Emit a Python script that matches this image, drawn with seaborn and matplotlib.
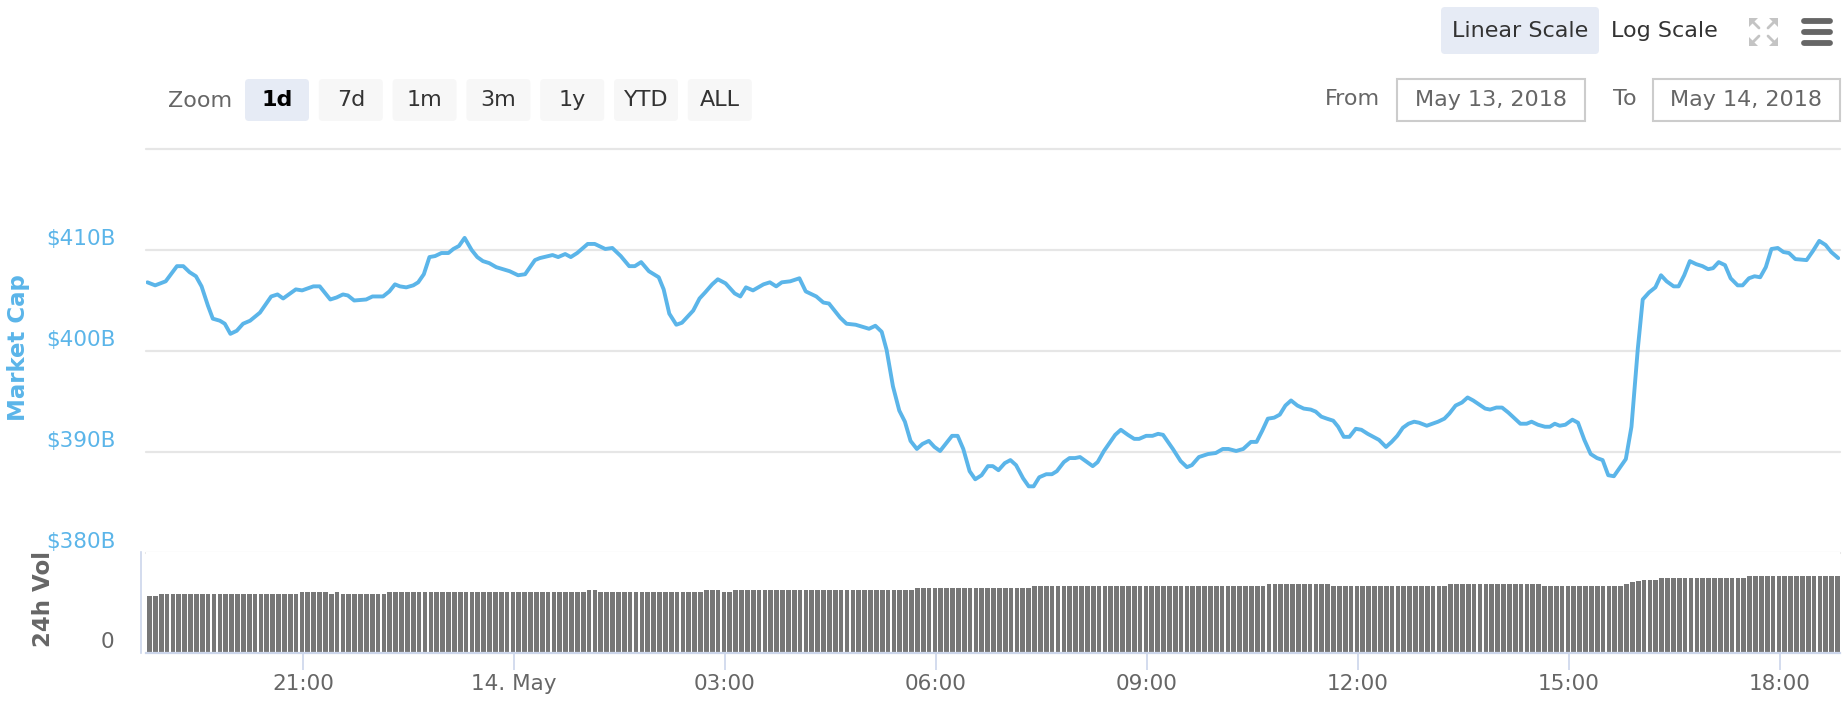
import numpy as np
import matplotlib
matplotlib.use("Agg")
import matplotlib.pyplot as plt
import matplotlib.transforms as mtrans
from matplotlib.patches import FancyBboxPatch, Rectangle, Polygon
import seaborn as sns

# market cap line: hours since 13 May 00:00, value in $B
HOURS = [18.79, 18.90, 19.05, 19.21, 19.30, 19.39, 19.48, 19.56, 19.65, 19.72,
         19.82, 19.89, 19.97, 20.06, 20.15, 20.25, 20.39, 20.55, 20.64, 20.72,
         20.82, 20.90, 20.99, 21.15, 21.24, 21.39, 21.48, 21.57, 21.64, 21.73,
         21.90, 21.99, 22.14, 22.23, 22.31, 22.38, 22.47, 22.57, 22.64, 22.72,
         22.80, 22.88, 22.97, 23.07, 23.14, 23.22, 23.30, 23.40, 23.48, 23.56,
         23.65, 23.75, 23.94, 24.06, 24.16, 24.30, 24.37, 24.55, 24.63, 24.73,
         24.81, 24.90, 25.05, 25.15, 25.30, 25.40, 25.52, 25.64, 25.72, 25.81,
         25.92, 26.06, 26.13, 26.21, 26.31, 26.39, 26.55, 26.64, 26.72, 26.82,
         26.90, 27.01, 27.14, 27.22, 27.30, 27.40, 27.55, 27.64, 27.73, 27.81,
         27.93, 28.06, 28.15, 28.30, 28.40, 28.48, 28.64, 28.73, 28.86, 29.05,
         29.14, 29.23, 29.30, 29.39, 29.48, 29.56, 29.64, 29.73, 29.81, 29.90,
         29.98, 30.06, 30.14, 30.23, 30.31, 30.39, 30.48, 30.56, 30.65, 30.74,
         30.81, 30.89, 30.98, 31.06, 31.14, 31.24, 31.32, 31.39, 31.47, 31.57,
         31.65, 31.72, 31.82, 31.90, 31.98, 32.05, 32.23, 32.30, 32.39, 32.55,
         32.63, 32.73, 32.82, 32.89, 32.99, 33.08, 33.16, 33.23, 33.37, 33.48,
         33.57, 33.64, 33.74, 33.87, 33.98, 34.08, 34.16, 34.27, 34.37, 34.48,
         34.56, 34.64, 34.72, 34.81, 34.89, 34.97, 35.05, 35.14, 35.23, 35.33,
         35.40, 35.48, 35.56, 35.65, 35.72, 35.80, 35.88, 35.97, 36.05, 36.14,
         36.30, 36.40, 36.48, 36.56, 36.64, 36.72, 36.80, 36.87, 36.98, 37.06,
         37.14, 37.23, 37.30, 37.39, 37.48, 37.56, 37.64, 37.81, 37.88, 37.97,
         38.05, 38.14, 38.31, 38.40, 38.47, 38.56, 38.66, 38.73, 38.80, 38.87,
         38.95, 39.05, 39.13, 39.22, 39.31, 39.40, 39.48, 39.56, 39.64, 39.73,
         39.81, 39.89, 39.98, 40.05, 40.14, 40.23, 40.31, 40.39, 40.49, 40.56,
         40.64, 40.72, 40.81, 40.90, 40.98, 41.05, 41.13, 41.22, 41.30, 41.40,
         41.47, 41.56, 41.64, 41.72, 41.80, 41.88, 41.97, 42.05, 42.13, 42.22,
         42.38, 42.47, 42.56, 42.65, 42.73, 42.83]
MCAP = [406.8, 406.5, 406.9, 408.4, 408.4, 407.8, 407.4, 406.4, 404.5, 403.2,
        403.0, 402.7, 401.7, 402.0, 402.7, 403.0, 403.8, 405.4, 405.6, 405.2,
        405.7, 406.1, 406.0, 406.4, 406.4, 405.1, 405.3, 405.6, 405.5, 405.0,
        405.1, 405.4, 405.4, 405.9, 406.6, 406.4, 406.3, 406.5, 406.8, 407.6,
        409.3, 409.4, 409.7, 409.7, 410.1, 410.4, 411.2, 410.0, 409.3, 408.9,
        408.7, 408.3, 407.9, 407.5, 407.6, 409.0, 409.2, 409.5, 409.3, 409.6,
        409.3, 409.7, 410.6, 410.6, 410.1, 410.2, 409.4, 408.4, 408.4, 408.8,
        407.9, 407.3, 406.1, 403.7, 402.6, 402.8, 404.0, 405.2, 405.8, 406.6,
        407.1, 406.7, 405.7, 405.4, 406.3, 406.0, 406.6, 406.8, 406.4, 406.8,
        406.9, 407.2, 405.9, 405.4, 404.8, 404.7, 403.3, 402.7, 402.6, 402.2,
        402.5, 401.9, 400.1, 396.5, 394.1, 393.0, 391.1, 390.3, 390.8, 391.1,
        390.5, 390.1, 390.8, 391.6, 391.6, 390.3, 388.1, 387.3, 387.7, 388.6,
        388.6, 388.2, 388.9, 389.2, 388.7, 387.4, 386.6, 386.6, 387.5, 387.8,
        387.8, 388.1, 389.0, 389.4, 389.4, 389.5, 388.6, 389.0, 390.1, 391.7,
        392.2, 391.7, 391.3, 391.3, 391.6, 391.6, 391.8, 391.7, 390.3, 389.1,
        388.5, 388.7, 389.5, 389.8, 389.9, 390.3, 390.3, 390.1, 390.3, 391.0,
        391.0, 392.1, 393.3, 393.4, 393.7, 394.6, 395.1, 394.6, 394.3, 394.2,
        394.0, 393.5, 393.3, 393.1, 392.5, 391.5, 391.5, 392.3, 392.2, 391.8,
        391.2, 390.5, 391.0, 391.6, 392.4, 392.8, 393.0, 392.9, 392.6, 392.8,
        393.0, 393.3, 393.8, 394.6, 394.9, 395.4, 395.1, 394.3, 394.2, 394.4,
        394.4, 393.9, 392.8, 392.8, 393.0, 392.7, 392.5, 392.5, 392.8, 392.6,
        392.7, 393.2, 392.9, 391.2, 389.8, 389.4, 389.2, 387.7, 387.6, 388.5,
        389.3, 392.5, 400.2, 405.1, 405.8, 406.3, 407.5, 406.9, 406.4, 406.4,
        407.5, 408.9, 408.6, 408.4, 408.1, 408.2, 408.8, 408.5, 407.2, 406.5,
        406.5, 407.2, 407.4, 407.3, 408.3, 410.1, 410.2, 409.8, 409.7, 409.1,
        409.0, 409.9, 410.9, 410.5, 409.8, 409.2]

# 24h volume bars (5 minute steps), as runs of equal height: level in $B, bar count
VOL_START = 18.82
VOL_STEP_MIN = 5
VOL_LEVELS = [16.8, 17.4, 18.0, 17.4, 18.0, 17.4, 18.0, 18.6, 18.0, 18.6, 18.0, 18.6,
              19.2, 19.8, 20.4, 19.8, 20.4, 19.8, 20.4, 21.0, 21.4, 21.6, 22.2, 22.8]
VOL_COUNTS = [2, 24, 5, 1, 1, 8, 34, 2, 18, 3, 2, 31,
              20, 40, 11, 20, 16, 14, 1, 1, 1, 3, 15, 16]

XTICK_HOURS = [21, 24, 27, 30, 33, 36, 39, 42]
XTICK_LABELS = ['21:00', '14. May', '03:00', '06:00', '09:00', '12:00', '15:00', '18:00']
YTICKS = [380, 390, 400, 410, 420]
YTICK_LABELS = ['$380B', '$390B', '$400B', '$410B', '']
ZOOM_BUTTONS = ['1d', '7d', '1m', '3m', '1y', 'YTD', 'ALL']
DATE_FROM = 'May 13, 2018'
DATE_TO = 'May 14, 2018'

BLUE = '#5bb5e9'
GRID = '#e6e6e6'
AXIS = '#ccd6eb'
TXT = '#666666'
W, H = 1848, 712
XMIN, XMAX = 18.77, 42.855

sns.set_theme(style="white")
plt.rcParams['font.family'] = ['DejaVu Sans']

vol = np.repeat(VOL_LEVELS, VOL_COUNTS)
vol_hours = VOL_START + np.arange(len(vol)) * VOL_STEP_MIN / 60

fig = plt.figure(figsize=(W / 100, H / 100), dpi=100)
fig.patch.set_facecolor('white')
ax = fig.add_axes([146 / W, 1 - 553 / H, 1694 / W, 404 / H])
axv = fig.add_axes([146 / W, 1 - 653 / H, 1694 / W, 101 / H])
lift = mtrans.ScaledTranslation(0, 0.13, fig.dpi_scale_trans)

# price pane
for v in YTICKS:
    ax.axhline(v, color=GRID, lw=1.6, clip_on=False, zorder=0)
sns.lineplot(x=HOURS, y=MCAP, ax=ax, color=BLUE, lw=2.8,
             estimator=None, sort=False, zorder=3)
ax.set_xlim(XMIN, XMAX)
ax.set_ylim(380, 420)
ax.set_yticks(YTICKS)
ax.set_yticklabels(YTICK_LABELS)
ax.set_xticks([])
ax.set(xlabel='', ylabel='')
ax.grid(False)
ax.tick_params(axis='y', length=0, pad=22, labelcolor=BLUE, labelsize=15.5)
for s in ax.spines.values():
    s.set_visible(False)
for lab in ax.get_yticklabels():
    lab.set_transform(lab.get_transform() + lift)

# volume pane
sns.barplot(x=vol_hours, y=vol, ax=axv, native_scale=True, color='#777777',
            saturation=1, width=0.8, errorbar=None, linewidth=0)
axv.set_xlim(XMIN, XMAX)
axv.set_ylim(0, 30)
axv.set_yticks([0])
axv.set_yticklabels(['0'])
axv.set_xticks(XTICK_HOURS)
axv.set_xticklabels(XTICK_LABELS)
axv.set(xlabel='', ylabel='')
axv.grid(False)
axv.tick_params(axis='y', length=0, pad=19, labelcolor=TXT, labelsize=15.5)
axv.tick_params(axis='x', bottom=True, direction='out', length=12, width=1.2,
                color=AXIS, labelcolor=TXT, labelsize=15.5, pad=3)
for side in ['top', 'right']:
    axv.spines[side].set_visible(False)
axv.spines['bottom'].set_color(AXIS)
axv.spines['bottom'].set_linewidth(1.6)
axv.spines['left'].set_color(AXIS)
axv.spines['left'].set_linewidth(1.2)
axv.spines['left'].set_position(('outward', 3.6))
for lab in axv.get_yticklabels():
    lab.set_transform(lab.get_transform() + lift)

fig.text(19 / W, 1 - 348 / H, 'Market Cap', rotation=90, color=BLUE, fontsize=16.5,
         fontweight='bold', ha='center', va='center')
fig.text(43 / W, 1 - 599 / H, '24h Vol', rotation=90, color=TXT, fontsize=16.5,
         fontweight='bold', ha='center', va='center')

# toolbar chrome, drawn in pixel units
ui = fig.add_axes([0, 0, 1, 1], zorder=5)
ui.set_xlim(0, W)
ui.set_ylim(H, 0)
ui.axis('off')
ui.patch.set_alpha(0)

ui.text(200, 101, 'Zoom', ha='center', va='center', fontsize=16, color=TXT)
for i, lab in enumerate(ZOOM_BUTTONS):
    x0 = 245 + i * 73.8
    sel = i == 0
    ui.add_patch(FancyBboxPatch((x0, 79), 64, 42, boxstyle='round,pad=0,rounding_size=4',
                                fc='#e6ebf5' if sel else '#f7f7f7', ec='none'))
    ui.text(x0 + 32, 100, lab, ha='center', va='center', fontsize=16,
            color='black' if sel else '#333333', fontweight='bold' if sel else 'normal')

ui.add_patch(FancyBboxPatch((1441, 7), 158, 47, boxstyle='round,pad=0,rounding_size=4',
                            fc='#e6ebf5', ec='none'))
ui.text(1520, 31, 'Linear Scale', ha='center', va='center', fontsize=16, color='#333333')
ui.text(1664, 31, 'Log Scale', ha='center', va='center', fontsize=16, color='#333333')

# fullscreen icon
ic = '#c4c4c4'
for cx, cy, dx, dy in [(1749, 18, 1, 1), (1778, 18, -1, 1), (1749, 46, 1, -1), (1778, 46, -1, -1)]:
    ui.add_patch(Polygon([(cx, cy), (cx + 9 * dx, cy), (cx, cy + 9 * dy)], closed=True, fc=ic, ec='none'))
    ui.plot([cx + 3 * dx, cx + 10 * dx], [cy + 3 * dy, cy + 10 * dy], color=ic, lw=2)

# menu icon
for yy in [21, 32, 43]:
    ui.plot([1804, 1830], [yy, yy], color='#666666', lw=4.2, solid_capstyle='round')

ui.text(1352, 99, 'From', ha='center', va='center', fontsize=16, color=TXT)
ui.add_patch(Rectangle((1397, 79), 188, 42, fc='white', ec='#cccccc', lw=1.5))
ui.text(1491, 100, DATE_FROM, ha='center', va='center', fontsize=16, color=TXT)
ui.text(1625, 99, 'To', ha='center', va='center', fontsize=16, color=TXT)
ui.add_patch(Rectangle((1653, 79), 187, 42, fc='white', ec='#cccccc', lw=1.5))
ui.text(1746, 100, DATE_TO, ha='center', va='center', fontsize=16, color=TXT)

fig.savefig('out.png', dpi=100, facecolor='white')
